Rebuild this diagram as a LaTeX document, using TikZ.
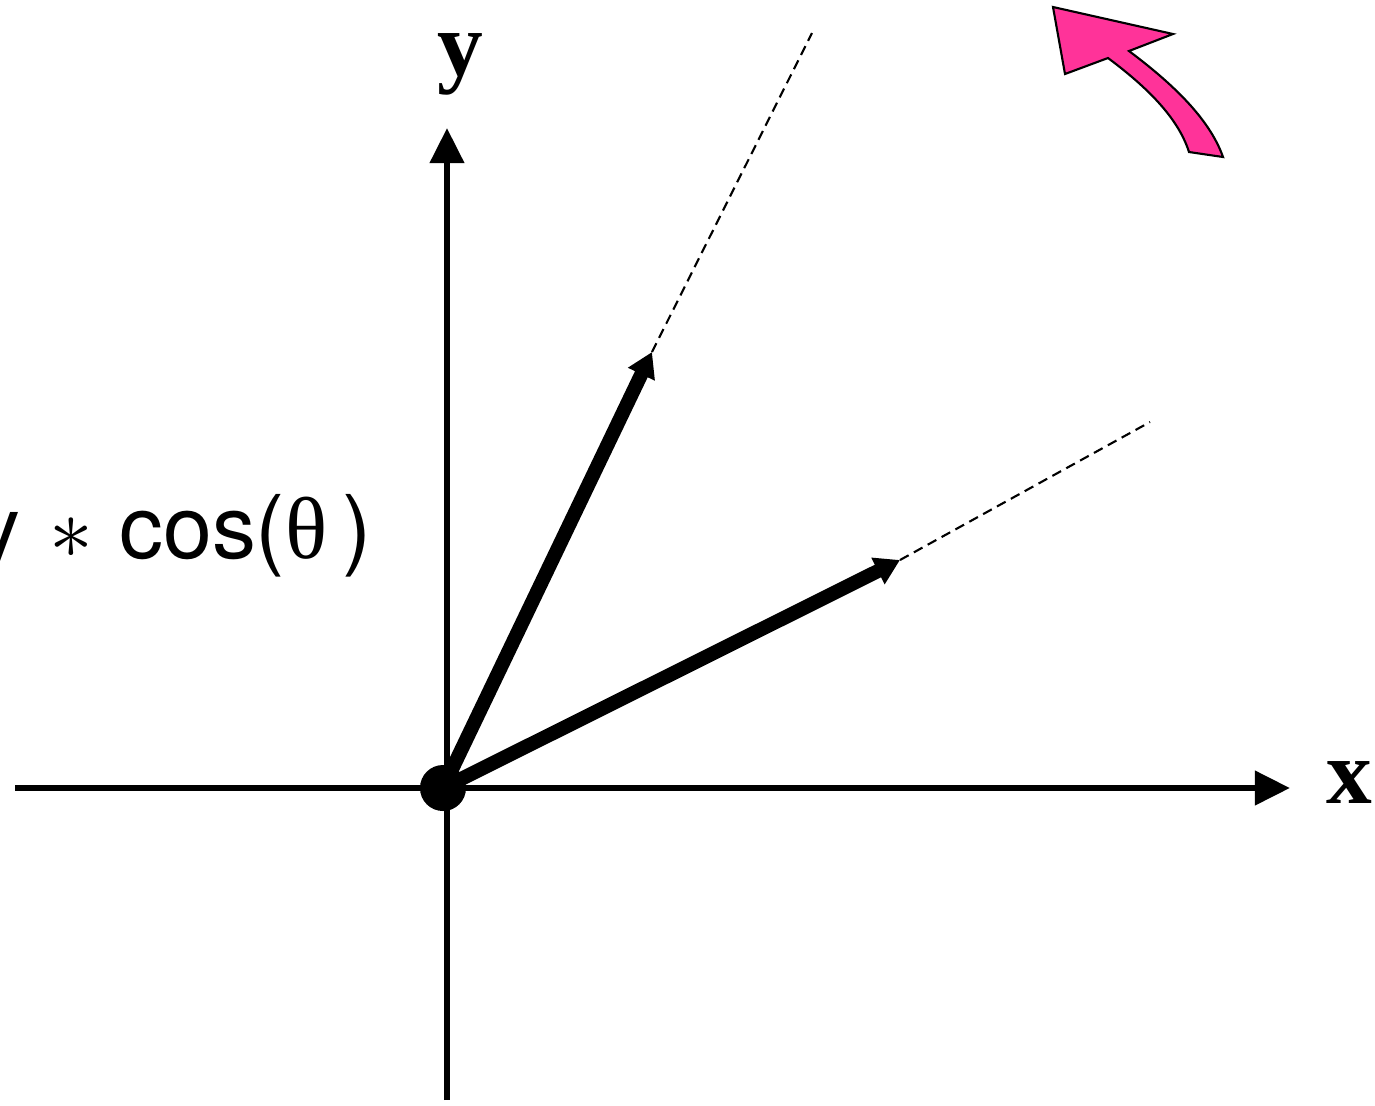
\documentclass[tikz,border=0pt]{standalone}
\usepackage{fontspec}
\setmainfont{Liberation Serif}
\newfontfamily\labelfont{TeX Gyre Heros}
\usetikzlibrary{arrows.meta}

\definecolor{rotpink}{RGB}{255,51,153}

\begin{document}
\begin{tikzpicture}[
  x=0.01cm, y=-0.01cm,
  axis/.style={line width=1.8pt, -{Triangle[length=10pt,width=9.5pt]}},
  vec/.style={line width=4pt, -{Triangle[length=7pt,width=8pt]}},
  ext/.style={line width=0.6pt, dash pattern=on 2.8pt off 1.7pt},
  axlabel/.style={font=\bfseries\fontsize{26}{30}\selectfont, anchor=base, inner sep=0pt}
]
\useasboundingbox (0,0) rectangle (1375,1105);
\clip (0,0) rectangle (1375,1105);

% axes
\coordinate (xl) at (15,788);
\coordinate (xr) at (1290,788);
\coordinate (yb) at (447,1100);
\coordinate (yt) at (447,128);
\draw[axis] (xl) -- (xr);
\draw[axis] (yb) -- (yt);
\node[axlabel] (xlab) at (1349,803) {x};
\node[axlabel] (ylab) at (460,75) {y};

% origin and vectors
\node[circle, fill, inner sep=0pt, minimum size=0.46cm] (o) at (443,788) {};
\coordinate (c) at (443,788);
\coordinate (v1) at (652,352);
\coordinate (v1e) at (812,33);
\coordinate (v2) at (900,560);
\coordinate (v2e) at (1150,422);
\draw[vec] (c) -- (v1);
\draw[vec] (c) -- (v2);
\draw[ext] (v1) -- (v1e);
\draw[ext] (v2) -- (v2e);

% label
\node[anchor=base east, inner sep=0pt]
  (lab) at (372,558) {\labelfont\fontsize{25}{30}\selectfont y\hspace{8pt}$\ast$\hspace{7.5pt}cos({\rmfamily θ}\,)};

% rotation arrow
\draw[line width=0.6pt, fill=rotpink, line join=miter]
  (1053,7) -- (1173,34) -- (1129,51)
  .. controls (1169,81) and (1209,117) .. (1223,157)
  -- (1189,152)
  .. controls (1177,114) and (1140,82) .. (1108,58)
  -- (1065,74) -- cycle;
\end{tikzpicture}
\end{document}
